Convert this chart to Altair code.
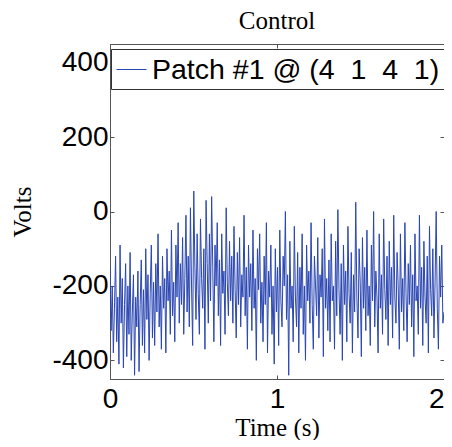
import altair as alt
import pandas as pd

volts = [
    -150, -320, -200, -380, -260, -120, -350, -230, -410, -90,
    -300, -180, -420, -250, -140, -390, -200, -330, -110, -400,
    -270, -170, -440, -230, -310, -160, -430, -250, -130, -360,
    -210, -380, -100, -290, -170, -400, -220, -90, -340, -190,
    -360, -140, -270, -60, -310, -200, -370, -120, -260, -180,
    -380, -100, -240, -160, -330, -50, -280, -190, -350, -90,
    -230, -30, -300, -140, -250, -70, -330, -180, -10, -270,
    -120, -310, 10, -200, -360, 55, -150, -290, -60, -220,
    -330, -20, -180, -260, -100, -370, 30, -140, -300, -60,
    -240, 40, -150, -350, -90, -200, -30, -280, -130, -360,
    -60, -220, -160, -330, 10, -190, -280, -80, -240, -120,
    -300, -40, -210, -340, -110, -250, -70, -310, -170, -230,
    -10, -280, -150, -370, -90, -230, -140, -320, -50, -260,
    -180, -400, -100, -210, -60, -300, -190, -350, -120, -250,
    -30, -380, -160, -230, -90, -330, -200, -410, -100, -270,
    -150, -360, -50, -240, -310, -120, -200, 0, -290, -170,
    -440, -80, -260, -200, -350, -40, -230, -310, -110, -380,
    -150, -260, -60, -330, -200, -400, -90, -240, -160, -300,
    -30, -250, -370, -120, -200, -280, -70, -340, -170, -230,
    -100, -390, -20, -260, -180, -320, -130, -350, -60, -240,
    -200, -370, -80, -280, 5, -210, -330, -140, -400, -90,
    -250, -160, -350, -40, -220, -300, -110, -380, -170, -270,
    25, -230, -340, -100, -190, -390, -70, -260, -150, -320,
    -50, -280, -200, -360, -90, -240, 0, -310, -160, -230,
    -380, -60, -260, -170, -330, -20, -210, -290, -120, -360,
    -80, -250, -150, -340, -10, -230, -300, -110, -200, -370,
    -60, -270, -180, -320, -30, -220, -350, -140, -250, -90,
    -310, -170, -390, -60, -240, -200, -330, -10, -260, -150,
    -360, -80, -230, -300, -120, -380, -40, -210, -280, -100,
    -340, -190, 0, -260, -370, -120, -230, -90, -300, -270,
]
t_start, t_end = 0.0, 2.0
series_name = "Patch #1 @ (4\u00a0\u00a01\u00a0\u00a04\u00a0\u00a01)"
x_ticks = [0, 1, 2]
y_ticks = [-400, -200, 0, 200, 400]
x_domain = [0, 2]
y_domain = [-450, 450]

n = len(volts)
times = [t_start + (t_end - t_start) * i / (n - 1) for i in range(n)]
df = pd.DataFrame({"t": times, "v": volts, "series": [series_name] * n})

LINE = "#2a46b2"
TICK = {"expr": "-4"}

x_label_align = {"condition": {"test": "datum.value >= 2", "value": "right"}, "value": "center"}

main = alt.Chart(df).mark_line(strokeWidth=1, clip=True).encode(
    x=alt.X("t:Q", scale=alt.Scale(domain=x_domain, nice=False, zero=False),
            axis=alt.Axis(values=x_ticks, title="Time (s)", labelExpr="datum.value",
                          tickSize=TICK, labelPadding=10, titlePadding=2, labelFlush=False,
                          labelAlign=x_label_align, orient="bottom")),
    y=alt.Y("v:Q", scale=alt.Scale(domain=y_domain, nice=False, zero=False),
            axis=alt.Axis(values=y_ticks, title="Volts", labelExpr="datum.value",
                          tickSize=TICK, labelPadding=6, titlePadding=16, labelFlush=False,
                          orient="left")),
    color=alt.Color("series:N", scale=alt.Scale(range=[LINE]),
                    legend=alt.Legend(title=None, orient="none", legendX=1, legendY=5,
                                      padding=5, strokeColor="#333", fillColor="white",
                                      labelFont="Liberation Sans", labelFontSize=28.5,
                                      labelColor="black", symbolType="stroke",
                                      symbolSize=900, symbolStrokeWidth=1,
                                      labelOffset=5, labelLimit=0, cornerRadius=0)),
)

mirror = alt.Chart(df).mark_line(opacity=0).encode(
    x=alt.X("t:Q", scale=alt.Scale(domain=x_domain, nice=False, zero=False),
            axis=alt.Axis(values=x_ticks, title=None, labels=False,
                          tickSize=TICK, orient="top")),
    y=alt.Y("v:Q", scale=alt.Scale(domain=y_domain, nice=False, zero=False),
            axis=alt.Axis(values=y_ticks, title=None, labels=False,
                          tickSize=TICK, orient="right")),
)

chart = alt.layer(main, mirror).resolve_scale(x="independent", y="independent").properties(
    width=334, height=335,
    title=alt.TitleParams("Control", font="Liberation Serif", fontSize=25,
                          fontWeight="normal", color="black", anchor="middle",
                          baseline="alphabetic", offset=14, dy=24),
    autosize=alt.AutoSizeParams(type="none"),
    padding={"left": 102, "top": 36, "right": 0, "bottom": 61},
).configure_axis(
    labelFont="Liberation Sans", labelFontSize=28, labelColor="black",
    titleFont="Liberation Serif", titleFontSize=25, titleFontWeight="normal",
    titleColor="black", grid=False, domain=False, tickColor="#555", tickWidth=1,
).configure_view(stroke="#555", strokeWidth=1)

chart.save("out.html", embed_options={"renderer": "svg", "actions": False})
